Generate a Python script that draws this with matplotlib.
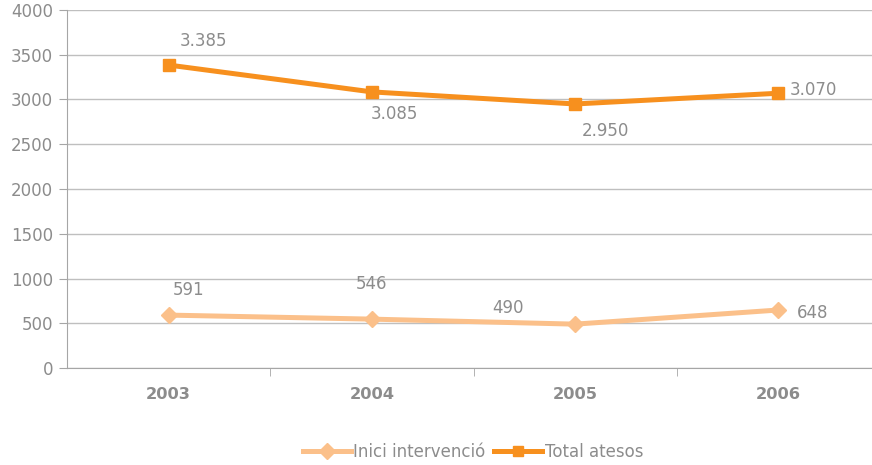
import matplotlib
matplotlib.use("Agg")
import matplotlib.pyplot as plt
from matplotlib.ticker import FixedLocator

years = ["2003", "2004", "2005", "2006"]
inici = [591, 546, 490, 648]
total = [3385, 3085, 2950, 3070]
inici_labels = ["591", "546", "490", "648"]
total_labels = ["3.385", "3.085", "2.950", "3.070"]

plt.rcParams['font.family'] = ['DejaVu Sans']
grey = "#8C8C8C"
c_total = "#F7901E"
c_inici = "#FBC08A"

fig = plt.figure(figsize=(8.72, 4.65), dpi=100)
ax = fig.add_axes([67/872, 1-368/465, (880-67)/872, (368-10)/465])
x = list(range(len(years)))
ax.plot(x, inici, color=c_inici, lw=3.6, marker="D", ms=8.5, label="Inici intervenció", zorder=3)
ax.plot(x, total, color=c_total, lw=3.6, marker="s", ms=8.5, label="Total atesos", zorder=3)

ax.set_xlim(-0.5, 3.5)
ax.set_ylim(0, 4000)
ax.set_yticks(range(0, 4001, 500))
ax.yaxis.grid(True, color="#BFBFBF", lw=1)
ax.set_axisbelow(True)
for s in ["top", "right"]:
    ax.spines[s].set_visible(False)
for s in ["left", "bottom"]:
    ax.spines[s].set_color("#A6A6A6")
ax.tick_params(axis="y", colors=grey, labelsize=12, length=6, color="#A6A6A6", pad=4)
ax.set_xticks(x)
ax.set_xticklabels(years, fontweight="bold", fontsize=11.7, color=grey)
ax.tick_params(axis="x", length=0, pad=14)
ax.xaxis.set_minor_locator(FixedLocator([0.5, 1.5, 2.5]))
ax.tick_params(axis="x", which="minor", length=6, color="#A6A6A6")

# data labels (offsets in points)
t_off = [(25, 17), (16, -16), (22, -19.5), (25, 2.5)]
i_off = [(14, 18), (0, 25), (-48.5, 11.5), (24.5, -2)]
for xi, v, lab, o in zip(x, total, total_labels, t_off):
    ax.annotate(lab, (xi, v), xytext=o, textcoords="offset points", ha="center", va="center",
                color=grey, fontsize=12)
for xi, v, lab, o in zip(x, inici, inici_labels, i_off):
    ax.annotate(lab, (xi, v), xytext=o, textcoords="offset points", ha="center", va="center",
                color=grey, fontsize=12)

leg = fig.legend(loc="center", bbox_to_anchor=(473/872, 1-452/465), ncol=2, frameon=False,
                 fontsize=12, handlelength=2.9, columnspacing=0.5, handletextpad=0.15,
                 markerscale=0.9)
for t in leg.get_texts():
    t.set_color(grey)

fig.savefig("out.png", dpi=100)
